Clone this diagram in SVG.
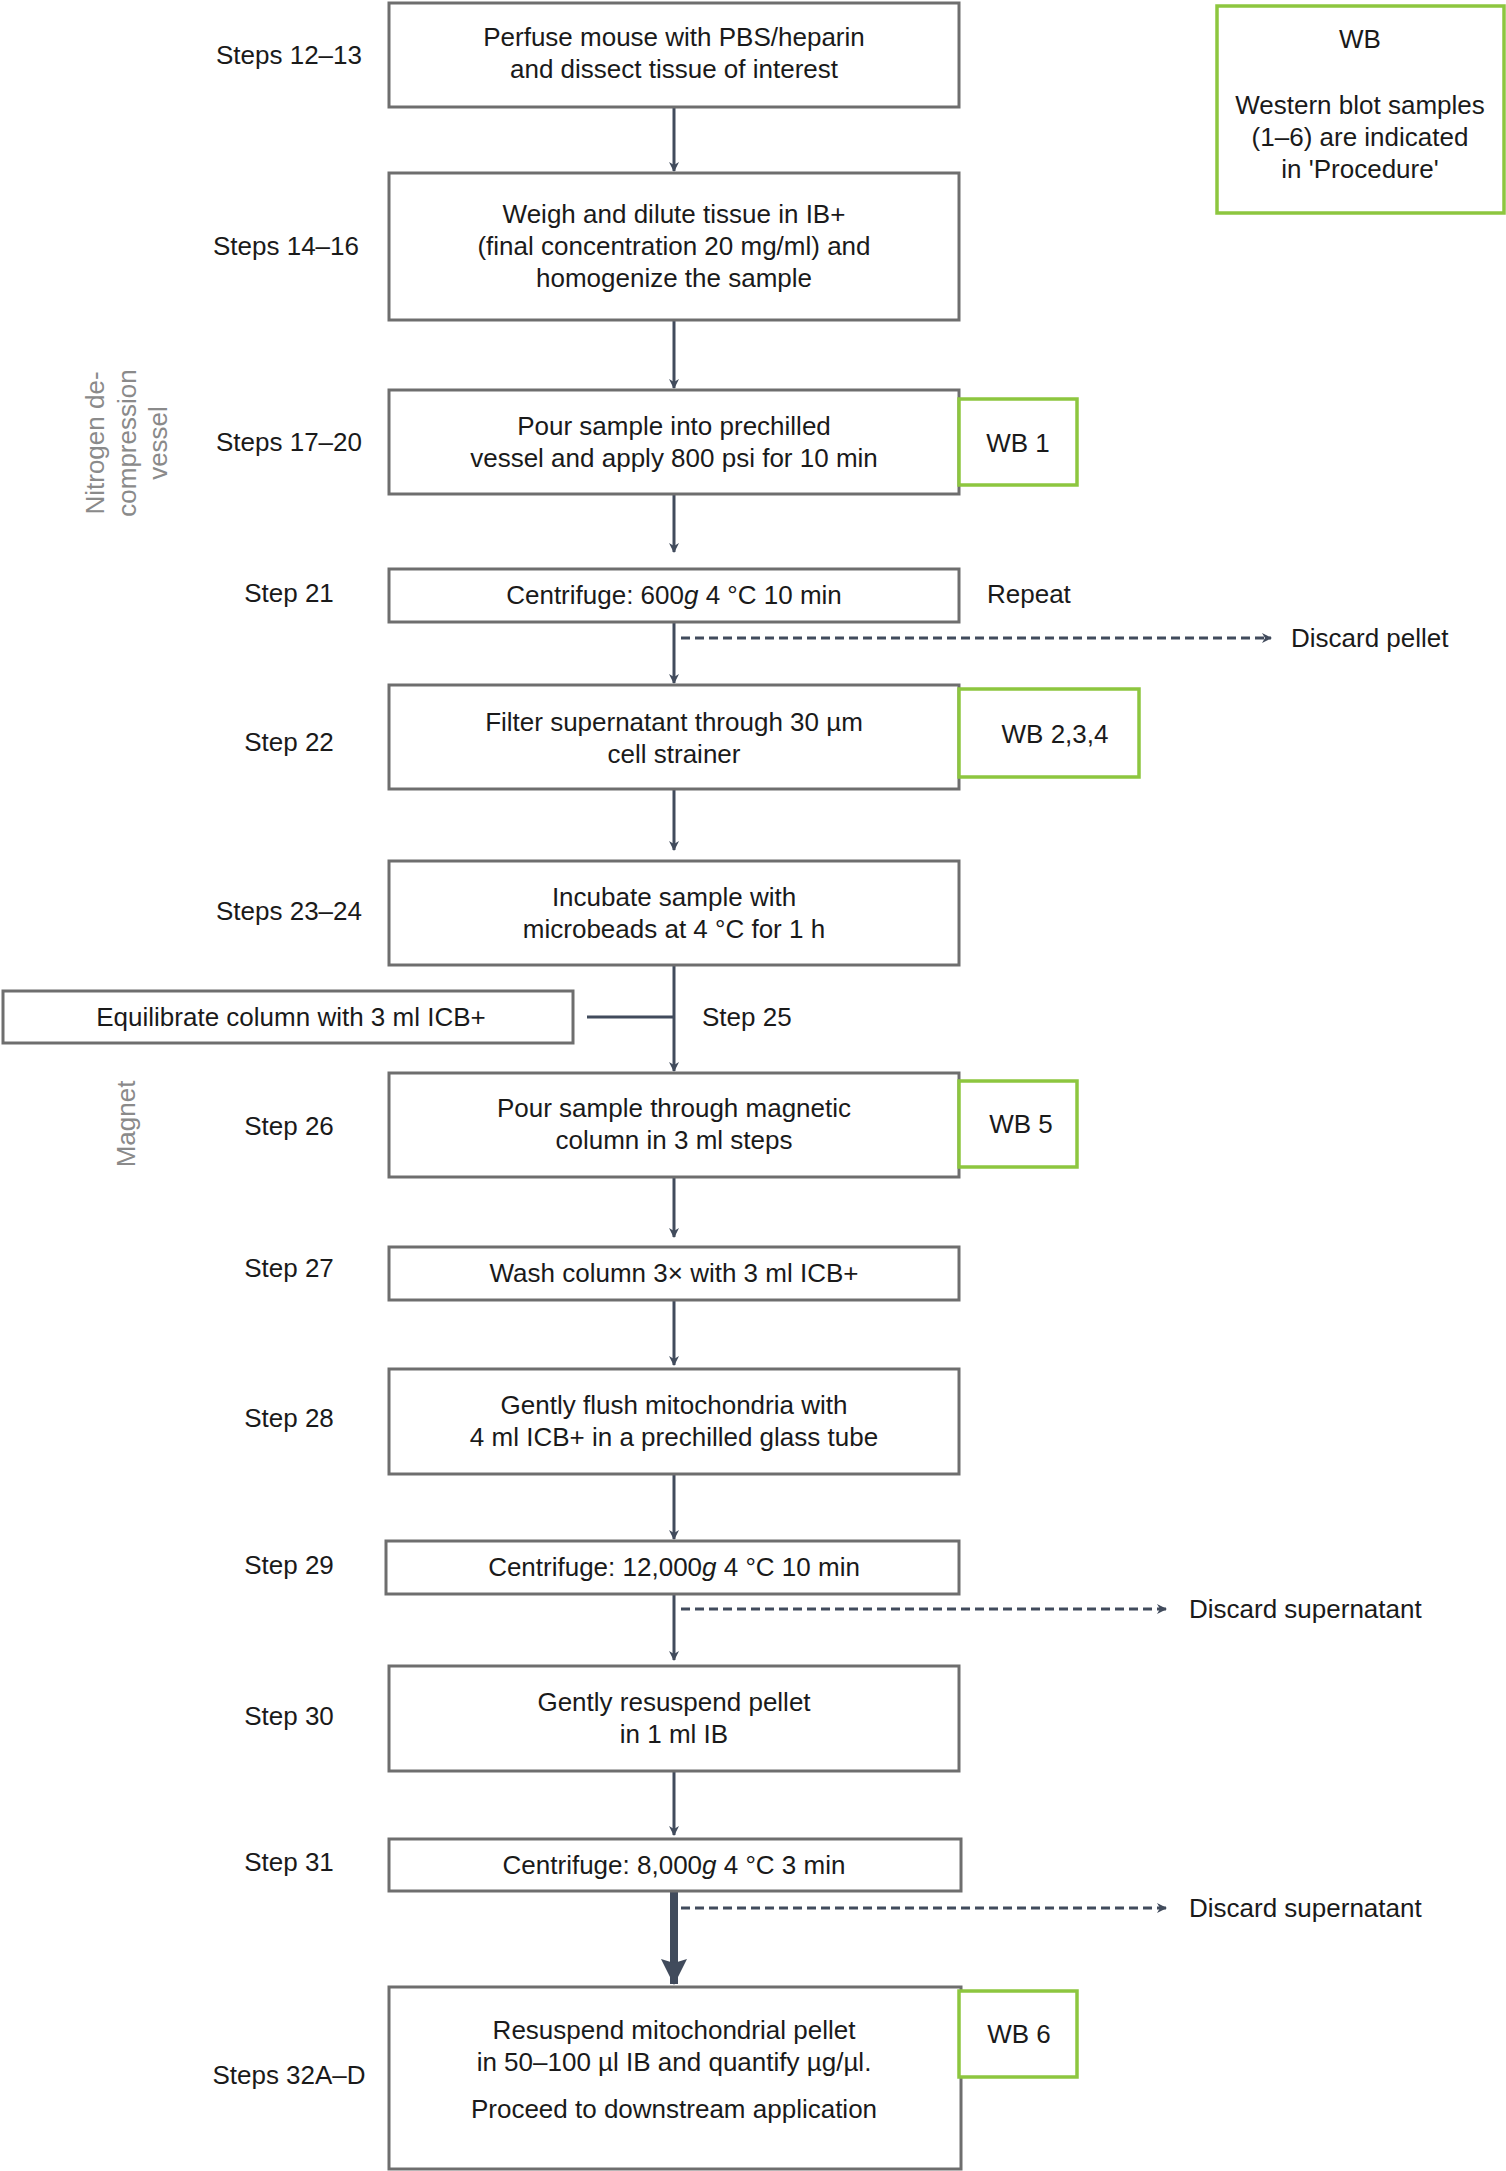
<svg xmlns="http://www.w3.org/2000/svg" width="1506" height="2171" viewBox="0 0 1506 2171">
<defs>
<style>
.b{fill:#fff;stroke:#6e6e6e;stroke-width:3}
.g{fill:#fff;stroke:#8dc63f;stroke-width:3.5}
text{font-family:"Liberation Sans",Arial,sans-serif;font-size:26px;fill:#1a1a1a}
.c{text-anchor:middle}
.v{fill:#8a8a8a;text-anchor:middle}
.a{stroke:#414b5c;stroke-width:3;fill:none}
.d{stroke:#414b5c;stroke-width:3;fill:none;stroke-dasharray:9 5}
</style>
<marker id="m" markerWidth="10" markerHeight="10" refX="9" refY="5" orient="auto" markerUnits="userSpaceOnUse" viewBox="0 0 10 10"><path d="M0,0 L10,5 L0,10 L3,5 Z" fill="#414b5c"/></marker>
<marker id="mb" markerWidth="26" markerHeight="30" refX="25" refY="13" orient="auto" markerUnits="userSpaceOnUse" viewBox="0 0 26 26"><path d="M0,0 L26,13 L0,26 L4,13 Z" fill="#414b5c"/></marker>
</defs>
<g id="connectors">
<line class="a" x1="674" y1="107" x2="674" y2="171" marker-end="url(#m)"/>
<line class="a" x1="674" y1="320" x2="674" y2="388" marker-end="url(#m)"/>
<line class="a" x1="674" y1="494" x2="674" y2="552" marker-end="url(#m)"/>
<line class="a" x1="674" y1="622" x2="674" y2="683" marker-end="url(#m)"/>
<line class="d" x1="681" y1="638" x2="1271" y2="638" marker-end="url(#m)"/>
<line class="a" x1="674" y1="789" x2="674" y2="850" marker-end="url(#m)"/>
<line class="a" x1="674" y1="965" x2="674" y2="1071" marker-end="url(#m)"/>
<line class="a" x1="587" y1="1017" x2="674" y2="1017"/>
<line class="a" x1="674" y1="1177" x2="674" y2="1237" marker-end="url(#m)"/>
<line class="a" x1="674" y1="1300" x2="674" y2="1365" marker-end="url(#m)"/>
<line class="a" x1="674" y1="1474" x2="674" y2="1539" marker-end="url(#m)"/>
<line class="a" x1="674" y1="1594" x2="674" y2="1660" marker-end="url(#m)"/>
<line class="d" x1="681" y1="1609" x2="1166" y2="1609" marker-end="url(#m)"/>
<line class="a" x1="674" y1="1771" x2="674" y2="1835" marker-end="url(#m)"/>
<line style="stroke:#414b5c;stroke-width:8" x1="674" y1="1891" x2="674" y2="1984" marker-end="url(#mb)"/>
<line class="d" x1="681" y1="1908" x2="1166" y2="1908" marker-end="url(#m)"/>
</g>
<g id="n1"><rect class="b" x="389" y="3" width="570" height="104"/><text class="c" x="674" y="46">Perfuse mouse with PBS/heparin</text><text class="c" x="674" y="78">and dissect tissue of interest</text></g>
<g id="n2"><rect class="b" x="389" y="173" width="570" height="147"/><text class="c" x="674" y="223">Weigh and dilute tissue in IB+</text><text class="c" x="674" y="255">(final concentration 20 mg/ml) and</text><text class="c" x="674" y="287">homogenize the sample</text></g>
<g id="n3"><rect class="b" x="389" y="390" width="570" height="104"/><text class="c" x="674" y="435">Pour sample into prechilled</text><text class="c" x="674" y="467">vessel and apply 800 psi for 10 min</text></g>
<g id="n4"><rect class="b" x="389" y="569" width="570" height="53"/><text class="c" x="674" y="604">Centrifuge: 600<tspan font-style="italic">g</tspan> 4 °C 10 min</text></g>
<g id="n5"><rect class="b" x="389" y="685" width="570" height="104"/><text class="c" x="674" y="731">Filter supernatant through 30 µm</text><text class="c" x="674" y="763">cell strainer</text></g>
<g id="n6"><rect class="b" x="389" y="861" width="570" height="104"/><text class="c" x="674" y="906">Incubate sample with</text><text class="c" x="674" y="938">microbeads at 4 °C for 1 h</text></g>
<g id="n-eq"><rect class="b" x="3" y="991" width="570" height="52"/><text class="c" x="291" y="1026">Equilibrate column with 3 ml ICB+</text></g>
<g id="n7"><rect class="b" x="389" y="1073" width="570" height="104"/><text class="c" x="674" y="1117">Pour sample through magnetic</text><text class="c" x="674" y="1149">column in 3 ml steps</text></g>
<g id="n8"><rect class="b" x="389" y="1247" width="570" height="53"/><text class="c" x="674" y="1282">Wash column 3× with 3 ml ICB+</text></g>
<g id="n9"><rect class="b" x="389" y="1369" width="570" height="105"/><text class="c" x="674" y="1414">Gently flush mitochondria with</text><text class="c" x="674" y="1446">4 ml ICB+ in a prechilled glass tube</text></g>
<g id="n10"><rect class="b" x="386" y="1541" width="573" height="53"/><text class="c" x="674" y="1576">Centrifuge: 12,000<tspan font-style="italic">g</tspan> 4 °C 10 min</text></g>
<g id="n11"><rect class="b" x="389" y="1666" width="570" height="105"/><text class="c" x="674" y="1711">Gently resuspend pellet</text><text class="c" x="674" y="1743">in 1 ml IB</text></g>
<g id="n12"><rect class="b" x="389" y="1839" width="572" height="52"/><text class="c" x="674" y="1874">Centrifuge: 8,000<tspan font-style="italic">g</tspan> 4 °C 3 min</text></g>
<g id="n13"><rect class="b" x="389" y="1987" width="572" height="182"/><text class="c" x="674" y="2039">Resuspend mitochondrial pellet</text><text class="c" x="674" y="2071">in 50–100 µl IB and quantify µg/µl.</text><text class="c" x="674" y="2118">Proceed to downstream application</text></g>
<g id="wb"><rect class="g" x="1217" y="6" width="287" height="207"/><text class="c" x="1360" y="48">WB</text><text class="c" x="1360" y="114">Western blot samples</text><text class="c" x="1360" y="146">(1–6) are indicated</text><text class="c" x="1360" y="178">in 'Procedure'</text></g>
<g id="wb1"><rect class="g" x="959" y="399" width="118" height="86"/><text class="c" x="1018" y="452">WB 1</text></g>
<g id="wb234"><rect class="g" x="959" y="689" width="180" height="88"/><text class="c" x="1055" y="743">WB 2,3,4</text></g>
<g id="wb5"><rect class="g" x="959" y="1081" width="118" height="86"/><text class="c" x="1021" y="1133">WB 5</text></g>
<g id="wb6"><rect class="g" x="959" y="1991" width="118" height="86"/><text class="c" x="1019" y="2043">WB 6</text></g>
<g id="labels">
<text class="c" x="289" y="64">Steps 12–13</text>
<text class="c" x="286" y="255">Steps 14–16</text>
<text class="c" x="289" y="451">Steps 17–20</text>
<text class="c" x="289" y="602">Step 21</text>
<text class="c" x="289" y="751">Step 22</text>
<text class="c" x="289" y="920">Steps 23–24</text>
<text x="702" y="1026">Step 25</text>
<text class="c" x="289" y="1135">Step 26</text>
<text class="c" x="289" y="1277">Step 27</text>
<text class="c" x="289" y="1427">Step 28</text>
<text class="c" x="289" y="1574">Step 29</text>
<text class="c" x="289" y="1725">Step 30</text>
<text class="c" x="289" y="1871">Step 31</text>
<text class="c" x="289" y="2084">Steps 32A–D</text>
<text x="987" y="603">Repeat</text>
<text x="1291" y="647">Discard pellet</text>
<text x="1189" y="1618">Discard supernatant</text>
<text x="1189" y="1917">Discard supernatant</text>
<text class="v" transform="translate(104,443) rotate(-90)">Nitrogen de-</text>
<text class="v" transform="translate(136,443) rotate(-90)">compression</text>
<text class="v" transform="translate(167,443) rotate(-90)">vessel</text>
<text class="v" transform="translate(135,1124) rotate(-90)">Magnet</text>
</g>
</svg>
